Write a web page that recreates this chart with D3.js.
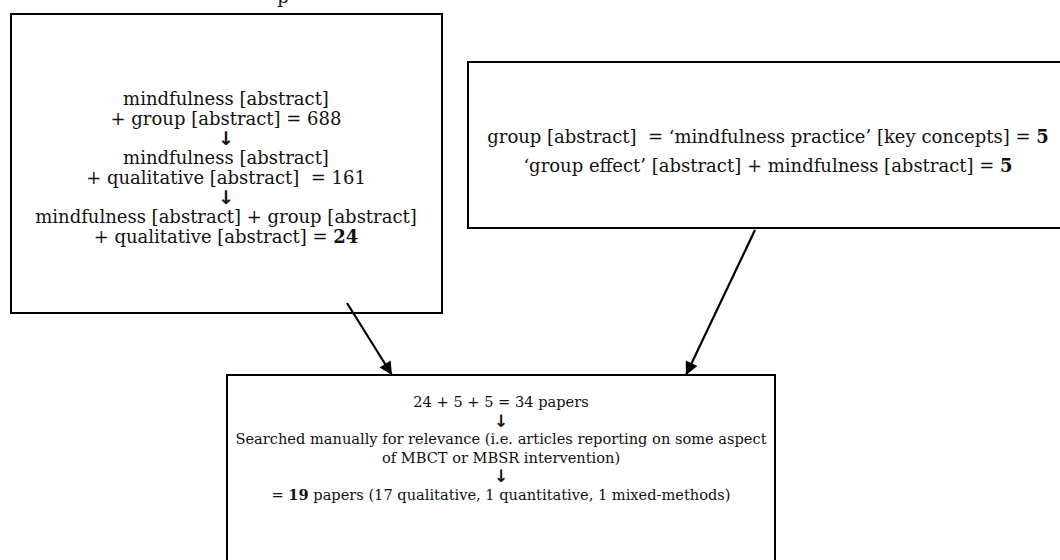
<!DOCTYPE html>
<html lang="en">
<head>
    <meta charset="UTF-8">
    <title>Search strategy flow</title>
    <style>
        body {
            margin: 0;
            padding: 0;
            background: #fff;
        }

        svg text {
            font-family: "DejaVu Serif", "Liberation Serif", serif;
            fill: #111;
        }
    </style>
</head>
<body>
<svg id="chart"></svg>

<script src="https://d3js.org/d3.v7.min.js"></script>
<script>
    // text of each box, one entry per line; **x** marks bold text
    var leftLines = [
        "mindfulness [abstract]",
        "+ group [abstract] = 688",
        "↓",
        "mindfulness [abstract]",
        "+ qualitative [abstract]  = 161",
        "↓",
        "mindfulness [abstract] + group [abstract]",
        "+ qualitative [abstract] = **24**"
    ];
    var rightLines = [
        "group [abstract]  = ‘mindfulness practice’ [key concepts] = **5**",
        "‘group effect’ [abstract] + mindfulness [abstract] = **5**"
    ];
    var bottomLines = [
        "24 + 5 + 5 = 34 papers",
        "↓",
        "Searched manually for relevance (i.e. articles reporting on some aspect",
        "of MBCT or MBSR intervention)",
        "↓",
        "= **19** papers (17 qualitative, 1 quantitative, 1 mixed-methods)"
    ];
    var links = [["left", "bottom"], ["right", "bottom"]];

    var width = 1060, height = 560;

    var svg = d3.select("#chart")
        .attr("width", width)
        .attr("height", height);

    // box geometry (page pixels)
    var boxes = {
        left:   {x: 11,  y: 14,  w: 431, h: 299, cx: 226, top: 99,  step: 19.6, lines: leftLines, size: 18, arrow: 19},
        right:  {x: 468, y: 62,  w: 620, h: 166, cx: 768, top: 137, step: 29,   lines: rightLines, size: 18, arrow: 19},
        bottom: {x: 227, y: 375, w: 548, h: 220, cx: 501, top: 402, step: 18.6, lines: bottomLines, size: 14.6, arrow: 17}
    };
    // where each link leaves and enters
    var ends = {
        "left-bottom":  [[347, 303], [392, 375]],
        "right-bottom": [[755, 230], [686, 375]]
    };

    svg.append("defs").append("marker")
        .attr("id", "head")
        .attr("viewBox", "0 0 10 10")
        .attr("refX", 10)
        .attr("refY", 5)
        .attr("markerUnits", "userSpaceOnUse")
        .attr("markerWidth", 15)
        .attr("markerHeight", 13)
        .attr("orient", "auto")
        .append("path")
        .attr("d", "M0,0 L10,5 L0,10 Z")
        .attr("fill", "#000");

    // partly hidden heading letter at the very top
    svg.append("text")
        .attr("x", 283)
        .attr("y", 3)
        .attr("text-anchor", "middle")
        .style("font-size", "18px")
        .text("p");

    Object.keys(boxes).forEach(function (key) {
        var b = boxes[key];
        var g = svg.append("g");

        g.append("rect")
            .attr("x", b.x)
            .attr("y", b.y)
            .attr("width", b.w)
            .attr("height", b.h)
            .attr("fill", "none")
            .attr("stroke", "#000")
            .attr("stroke-width", 2);

        var y = d3.scaleLinear()
            .domain([0, 1])
            .range([b.top, b.top + b.step]);

        g.selectAll("text.line")
            .data(b.lines)
            .enter()
            .append("text")
            .attr("class", "line")
            .attr("x", b.cx)
            .attr("y", function (d, i) { return y(i); })
            .attr("dy", "0.35em")
            .attr("text-anchor", "middle")
            .style("white-space", "pre")
            .style("font-family", function (d) { return d === "↓" ? "DejaVu Sans" : null; })
            .style("font-weight", function (d) { return d === "↓" ? "bold" : null; })
            .style("font-size", function (d) { return (d === "↓" ? b.arrow : b.size) + "px"; })
            .each(function (d) {
                var t = d3.select(this);
                d.split(/(\*\*[^*]+\*\*)/).forEach(function (part) {
                    if (!part) return;
                    var bold = /^\*\*/.test(part);
                    t.append("tspan")
                        .style("font-weight", bold ? "bold" : null)
                        .text(bold ? part.slice(2, -2) : part);
                });
            });
    });

    svg.selectAll("line.link")
        .data(links)
        .enter()
        .append("line")
        .attr("class", "link")
        .attr("x1", function (d) { return ends[d.join("-")][0][0]; })
        .attr("y1", function (d) { return ends[d.join("-")][0][1]; })
        .attr("x2", function (d) { return ends[d.join("-")][1][0]; })
        .attr("y2", function (d) { return ends[d.join("-")][1][1]; })
        .attr("stroke", "#000")
        .attr("stroke-width", 2.2)
        .attr("marker-end", "url(#head)");
</script>
</body>
</html>
